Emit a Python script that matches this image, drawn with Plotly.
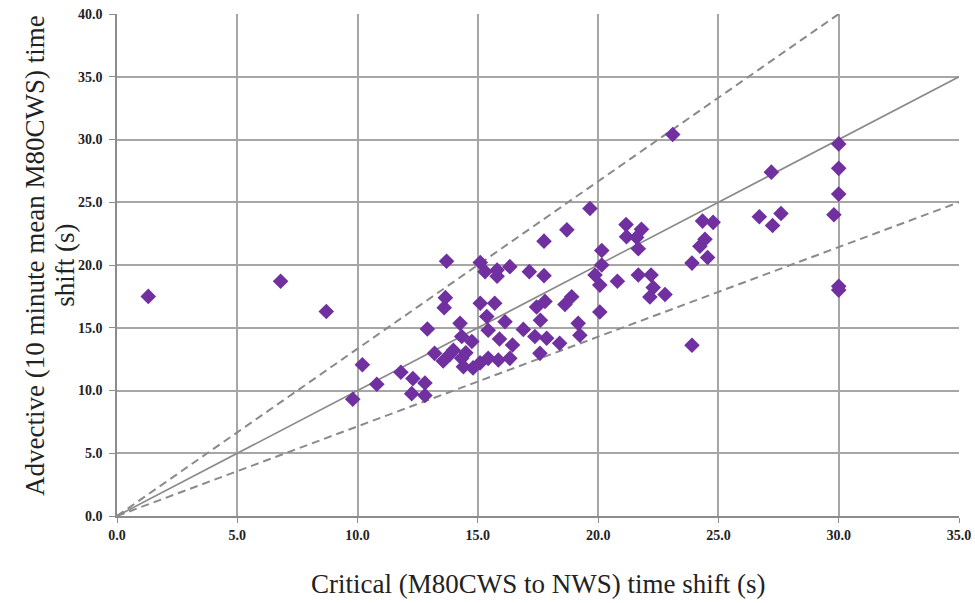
import plotly.graph_objects as go

# Critical (M80CWS to NWS) time shift (s)
crit = [1.3, 6.8, 8.7, 9.8, 10.2, 10.8, 11.8, 12.3, 12.25, 12.8, 12.8, 12.9, 13.2, 13.56,
        13.6, 13.65, 13.7, 13.98, 14.26, 14.33, 14.33, 14.4, 14.75, 14.8, 15.09, 15.43,
        15.85, 16.33, 15.1, 15.3, 15.8, 15.8, 16.33, 17.14, 17.75, 17.75, 18.7, 19.66,
        15.1, 15.7, 15.37, 15.43, 15.9, 16.13, 16.44, 16.89, 17.44, 17.79, 17.6, 17.37,
        17.86, 18.4, 17.58, 18.62, 18.9, 19.17, 19.24, 20.15, 20.15, 19.87, 20.07, 20.8,
        20.07, 21.16, 21.18, 21.8, 21.6, 21.67, 21.67, 22.2, 22.29, 22.15, 22.78, 23.1,
        23.9, 23.9, 24.23, 24.44, 24.55, 24.34, 24.78, 26.7, 27.25, 27.6, 27.2, 30.0,
        30.0, 30.0, 29.8, 30.0, 30.0, 14.5, 13.85]
# Advective (10 minute mean M80CWS) time shift (s)
adv = [17.5, 18.7, 16.3, 9.3, 12.05, 10.5, 11.45, 10.95, 9.75, 10.6, 9.6, 14.9, 12.96, 12.35,
       16.6, 17.4, 20.3, 13.2, 15.35, 14.3, 12.56, 11.9, 13.9, 11.8, 12.2, 12.56,
       12.43, 12.56, 20.2, 19.47, 19.6, 19.1, 19.87, 19.47, 19.15, 21.9, 22.8, 24.5,
       16.95, 16.95, 15.9, 14.8, 14.1, 15.48, 13.63, 14.87, 16.65, 17.1, 15.6, 14.3,
       14.16, 13.76, 12.96, 16.85, 17.47, 15.35, 14.4, 21.15, 20.0, 19.2, 18.4, 18.7,
       16.25, 23.22, 22.25, 22.84, 22.2, 21.3, 19.2, 19.2, 18.2, 17.45, 17.65, 30.4,
       20.15, 13.6, 21.5, 22.05, 20.6, 23.5, 23.4, 23.85, 23.15, 24.1, 27.4, 29.65,
       27.7, 25.65, 24.0, 18.0, 18.3, 13.0, 12.9]

# Reference lines through the origin
line_x = [0, 35]
unity_y = [0, 35]
upper_x = [0, 30]
upper_y = [0, 40]
lower_x = [0, 35]
lower_y = [0, 25]

x_ticks = [0, 5, 10, 15, 20, 25, 30, 35]
y_ticks = [0, 5, 10, 15, 20, 25, 30, 35, 40]

fig = go.Figure()
fig.add_trace(go.Scatter(x=line_x, y=unity_y, mode="lines",
                         line=dict(color="#8a8a8a", width=1.6), hoverinfo="skip"))
fig.add_trace(go.Scatter(x=upper_x, y=upper_y, mode="lines",
                         line=dict(color="#8a8a8a", width=2, dash="8px,5px"), hoverinfo="skip"))
fig.add_trace(go.Scatter(x=lower_x, y=lower_y, mode="lines",
                         line=dict(color="#8a8a8a", width=2, dash="8px,5px"), hoverinfo="skip"))
fig.add_trace(go.Scatter(x=crit, y=adv, mode="markers",
                         marker=dict(symbol="diamond", size=12, color="#7030A0",
                                     line=dict(width=0))))

tickfont = dict(family="Liberation Serif", size=14, color="#222222", weight="bold")
titlefont = dict(family="Liberation Serif", size=27, color="#222222")
fig.update_layout(
    width=975, height=603,
    margin=dict(l=117, r=16, t=14, b=87),
    paper_bgcolor="white", plot_bgcolor="white",
    showlegend=False,
    xaxis=dict(range=[0, 35], tickvals=x_ticks, ticktext=[f"{v:.1f}" for v in x_ticks],
               showgrid=True, gridcolor="#a6a6a6", gridwidth=1.5,
               showline=True, linecolor="#8c8c8c", linewidth=1.5,
               ticks="outside", ticklen=5, tickcolor="#8c8c8c",
               zeroline=False, tickfont=tickfont, automargin=False),
    yaxis=dict(range=[0, 40], tickvals=y_ticks, ticktext=[f"{v:.1f}" for v in y_ticks],
               showgrid=True, gridcolor="#a6a6a6", gridwidth=1.5,
               showline=True, linecolor="#8c8c8c", linewidth=1.5,
               ticks="outside", ticklen=6, tickcolor="#8c8c8c", ticklabelstandoff=4,
               zeroline=False, tickfont=tickfont, automargin=False),
    annotations=[
        dict(text="Critical (M80CWS to NWS) time shift (s)", xref="paper", yref="paper",
             x=0.5, y=-0.135, xanchor="center", yanchor="middle", showarrow=False,
             font=titlefont),
        dict(text="Advective (10 minute mean M80CWS) time", xref="paper",
             yref="paper", x=-0.0974, y=0.52, xanchor="center", yanchor="middle",
             textangle=-90, showarrow=False, font=titlefont),
        dict(text="shift (s)", xref="paper",
             yref="paper", x=-0.062, y=0.50, xanchor="center", yanchor="middle",
             textangle=-90, showarrow=False, font=titlefont),
    ],
)
fig.write_html("out.html")
